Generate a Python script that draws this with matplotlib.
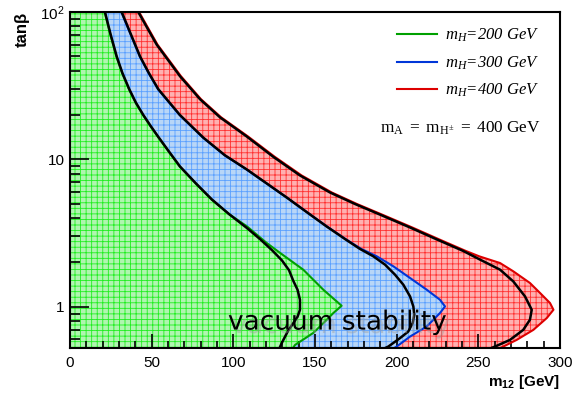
import matplotlib
matplotlib.use("Agg")
import matplotlib.pyplot as plt
import matplotlib.patheffects as pe
from matplotlib.ticker import MultipleLocator, NullFormatter, LogLocator

plt.rcParams["mathtext.fontset"] = "custom"
plt.rcParams["mathtext.rm"] = "Liberation Serif"
plt.rcParams["mathtext.it"] = "Liberation Serif:italic"
plt.rcParams["mathtext.bf"] = "Liberation Sans:bold"
plt.rcParams["mathtext.sf"] = "Liberation Sans"
plt.rcParams["font.family"] = "Liberation Sans"
plt.rcParams["hatch.linewidth"] = 0.6

# allowed region edges (tanb, m12) for each m_H
green_tb = [100, 70.9, 49.9, 38.5, 29.9, 24.2, 20.0, 16.9, 14.3, 11.3, 8.96, 6.87, 5.34, 4.26, 3.50,
            2.71, 2.32, 1.785, 1.305, 1.016, 0.906, 0.816, 0.665, 0.551, 0.525]
green_x = [21.2, 24.6, 28.4, 31.9, 36.1, 40.2, 44.7, 49.1, 53.7, 60.4, 67.1, 76.9, 86.7, 97.3, 108.5,
           120.4, 128.6, 142.8, 155.1, 166.3, 161.2, 157.2, 149.0, 137.8, 136.5]

blue_tb = [100, 70.9, 49.9, 38.5, 29.9, 20.0, 14.05, 10.65, 8.55, 6.87, 5.51, 4.39, 3.50, 2.88, 2.47,
           2.20, 1.88, 1.567, 1.305, 1.116, 1.005, 0.906, 0.735, 0.628, 0.537, 0.525]
blue_x = [31.4, 37.0, 42.7, 48.1, 53.9, 67.1, 81.4, 94.7, 108.0, 120.3, 132.7, 145.0, 157.4, 168.7, 178.3,
          187.8, 198.0, 208.2, 218.4, 226.5, 229.6, 226.5, 218.4, 208.2, 200.0, 198.5]

red_tb = [100, 78.6, 60.0, 36.7, 25.6, 19.3, 14.3, 10.4, 7.78, 5.96, 4.98, 4.22, 3.45, 2.86, 2.39,
          2.2, 1.98, 1.74, 1.45, 1.24, 1.06, 0.954, 0.838, 0.697, 0.596, 0.537, 0.525]
red_x = [42.3, 47.6, 53.6, 67.9, 80.2, 92.5, 109.0, 125.4, 141.8, 160.3, 175.7, 191.1, 209.6, 226.2, 242.4,
         250.5, 263.3, 271.4, 281.6, 287.8, 293.9, 296.0, 291.9, 283.7, 273.5, 265.3, 263.5]

# black contours
k200_tb = [100, 70.9, 49.9, 38.5, 29.9, 24.2, 20.0, 16.9, 14.3, 11.3, 8.96, 6.87, 5.34, 4.26, 3.43,
           2.88, 2.42, 2.06, 1.77, 1.50, 1.305, 1.116, 0.954, 0.855, 0.774, 0.687, 0.566, 0.525]
k200_x = [21.4, 24.8, 28.6, 32.1, 36.3, 40.4, 44.9, 49.3, 53.9, 60.6, 67.3, 77.1, 86.9, 97.3, 108.2,
          116.3, 123.7, 129.8, 134.1, 136.7, 139.3, 140.8, 140.8, 139.3, 136.7, 133.5, 129.6, 128.3]

k300_tb = [100, 70.9, 49.9, 38.5, 29.9, 20.0, 14.05, 10.65, 8.55, 6.87, 5.51, 4.39, 3.50, 2.88, 2.47,
           2.20, 1.93, 1.65, 1.41, 1.175, 1.005, 0.882, 0.775, 0.679, 0.612, 0.537, 0.525]
k300_x = [31.65, 37.2, 42.9, 48.3, 54.1, 67.3, 81.6, 94.9, 108.2, 120.4, 132.7, 144.9, 157.2, 168.4, 177.5,
          185.7, 192.9, 199.0, 204.1, 208.2, 210.2, 210.8, 209.8, 207.1, 202.0, 194.9, 193.0]

k400_tb = [100, 78.6, 60.0, 36.7, 25.6, 19.3, 14.3, 10.4, 7.78, 5.96, 4.98, 4.22, 3.45, 2.86, 2.39,
           2.09, 1.785, 1.486, 1.175, 0.954, 0.816, 0.697, 0.596, 0.537, 0.525]
k400_x = [41.8, 47.1, 53.1, 67.3, 79.6, 91.8, 108.2, 124.5, 140.8, 159.2, 174.5, 189.8, 208.2, 224.7, 240.8,
          251.0, 263.3, 271.4, 278.6, 282.7, 281.6, 277.5, 269.4, 260.2, 258.0]

labels = ["$m_{H}$=200 GeV", "$m_{H}$=300 GeV", "$m_{H}$=400 GeV"]

fig = plt.figure(figsize=(5.72, 3.96), dpi=100)
ax = fig.add_axes([0.1224, 0.1212, 0.8566, 0.8485])

# fills, widest first
ax.fill_betweenx(red_tb, 0, red_x, facecolor="#ffb0b0", linewidth=0)
ax.fill_betweenx(red_tb, 0, red_x, facecolor="none", edgecolor="#ff3030", hatch="+++", linewidth=0)
ax.fill_betweenx(blue_tb, 0, blue_x, facecolor="#b8d6f7", linewidth=0)
ax.fill_betweenx(blue_tb, 0, blue_x, facecolor="none", edgecolor="#5aa0ff", hatch="+++", linewidth=0)
ax.fill_betweenx(green_tb, 0, green_x, facecolor="#b0f5b0", linewidth=0)
ax.fill_betweenx(green_tb, 0, green_x, facecolor="none", edgecolor="#20ee20", hatch="+++", linewidth=0)

ax.plot(green_x, green_tb, color="#00a000", lw=1.5, label=labels[0])
ax.plot(blue_x, blue_tb, color="#0036d8", lw=1.5, label=labels[1])
ax.plot(red_x, red_tb, color="#dd0000", lw=1.5, label=labels[2])

for xs, ts in [(k200_x, k200_tb), (k300_x, k300_tb), (k400_x, k400_tb)]:
    ax.plot(xs, ts, color="black", lw=1.8)

ax.set_yscale("log")
ax.set_xlim(0, 300)
ax.set_ylim(0.525, 100)

ax.xaxis.set_major_locator(MultipleLocator(50))
ax.xaxis.set_minor_locator(MultipleLocator(10))
ax.set_yticks([1, 10, 100])
ax.set_yticklabels(["1", "10", r"$\mathsf{10^{2}}$"])
ax.yaxis.set_minor_locator(LogLocator(subs=range(2, 10)))
ax.yaxis.set_minor_formatter(NullFormatter())
ax.tick_params(which="both", direction="in", top=False, right=False, labelsize=11, width=1.2)
ax.tick_params(axis="x", which="major", length=10, pad=6)
ax.tick_params(axis="x", which="minor", length=5)
ax.tick_params(axis="y", which="major", length=14, pad=4)
ax.tick_params(axis="y", which="minor", length=7)
for s in ax.spines.values():
    s.set_linewidth(1.5)

ax.set_xlabel(r"$\mathbf{m_{12}}$ [GeV]", fontsize=11, fontweight="bold", loc="right", labelpad=2)
ax.set_ylabel("tanβ", fontsize=12, fontweight="bold", loc="top", labelpad=7.5)

leg = ax.legend(loc="upper right", bbox_to_anchor=(0.971, 0.975), frameon=False,
                prop={"family": "Liberation Serif", "style": "italic", "size": 12},
                handlelength=2.4, handletextpad=0.45, labelspacing=0.6, borderaxespad=0)

ax.text(0.632, 0.64, r"$\mathrm{m_{A}\ =\ m_{H^{\pm}}\ =\ 400\ GeV}$", transform=ax.transAxes,
        fontsize=12.4, va="baseline")

ax.text(96.7, 0.70, "vacuum stability", family="DejaVu Sans", fontsize=19, va="baseline",
        path_effects=[pe.SimplePatchShadow(offset=(2.5, -2.5), shadow_rgbFace="#999999", alpha=0.4),
                      pe.Normal()])

fig.savefig("out.png", dpi=100)
